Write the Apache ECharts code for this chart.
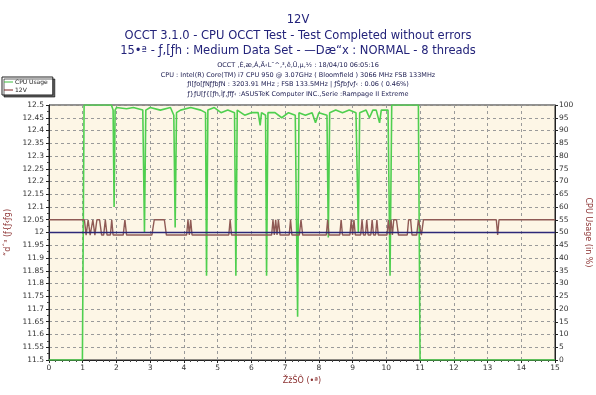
<!DOCTYPE html>
<html><head><meta charset="utf-8">
<script src="https://cdn.jsdelivr.net/npm/echarts@6/dist/echarts.min.js"></script>
<style>html,body{margin:0;padding:0;background:#fff}#c{width:596px;height:395px}</style>
</head><body><div id="c"></div>
<script>
// ---- data ----
const titleLines = [
  "12V",
  "OCCT 3.1.0 - CPU OCCT Test - Test Completed without errors",
  "15•ª - ƒ‚[ƒh : Medium Data Set - —Dæ“x : NORMAL - 8 threads"
];
const infoLines = [
  "OCCT ‚É‚æ‚Á‚Ä‹L˜^‚³‚ê‚Ü‚µ‚½ : 18/04/10 06:05:16",
  "CPU : Intel(R) Core(TM) i7 CPU 950 @ 3.07GHz ( Bloomfield ) 3066 MHz FSB 133MHz",
  "ƒI[ƒo[ƒNƒƒbƒN : 3203.91 MHz ; FSB 133.5MHz | ƒŠƒbƒvƒ‹ : 0.06 ( 0.46%)",
  "ƒ}ƒU[ƒ{[ƒh‚Ìƒ‚ƒfƒ‹ :ASUSTeK Computer INC.,Serie :Rampage II Extreme"
];
const xName = "ŽžŠÔ (•ª)";
const yLeftName = "“dˆ³ (ƒ{ƒ‹ƒg)";
const yRightName = "CPU Usage (in %)";
const refVoltage = 12;

// CPU usage (%) : time (min), value
const cpuTime = [0,0.99,1.04,1.85,1.9,1.93,1.96,2.0,2.3,2.5,2.78,2.83,2.87,3.0,3.3,3.6,3.7,3.74,3.78,3.9,4.2,4.5,4.64,4.67,4.71,4.9,5.1,5.3,5.5,5.54,5.58,5.8,6.0,6.2,6.26,6.3,6.42,6.45,6.49,6.7,6.9,7.1,7.3,7.37,7.41,7.6,7.8,7.9,8.0,8.24,8.28,8.32,8.5,8.7,8.9,9.1,9.17,9.21,9.4,9.5,9.6,9.7,9.8,9.85,10.05,10.11,10.16,10.95,11.0,15];
const cpuValue = [0,0,100,100,98,60,98,99,98.5,99,98,50,98,99,98,99,96,52,97,98,99,98,97,33,98,99,97,98,97,33,98,96,97,97,92,97,96,33,97,97,95,97,96,17,97,96,97,93,97,96,48,97,98,97,98,97,50,97,98,95,98,98,93,98,98,33,100,100,0,0];

// 12V (V) : time (min), value
const vTime = [0,1.05,1.1,1.16,1.22,1.3,1.36,1.42,1.5,1.56,1.62,1.67,1.72,1.82,1.86,1.9,2.2,2.25,2.3,3.05,3.12,3.42,3.48,4.08,4.12,4.16,4.2,4.24,5.33,5.37,5.41,6.6,6.64,6.68,6.72,6.76,6.8,6.85,7.12,7.16,7.2,7.42,7.47,7.52,8.22,8.26,8.3,8.62,8.66,8.7,8.92,8.96,9.0,9.04,9.08,9.24,9.28,9.32,9.38,9.42,9.46,9.54,9.58,9.62,9.68,9.72,9.76,10.02,10.06,10.1,10.14,10.18,10.22,10.3,10.36,10.62,10.66,10.72,10.76,10.9,10.95,11.0,11.04,11.1,13.26,13.3,13.34,15];
const vValue = [12.05,12.05,11.99,12.05,11.99,12.05,11.99,12.05,12.05,11.99,11.99,12.05,11.99,11.99,12.05,11.99,11.99,12.05,11.99,11.99,12.05,12.05,11.99,11.99,12.05,11.99,12.05,11.99,11.99,12.05,11.99,11.99,12.05,11.99,12.05,11.99,12.05,11.99,11.99,12.05,11.99,11.99,12.05,11.99,11.99,12.05,11.99,11.99,12.05,11.99,11.99,12.05,11.99,12.05,11.99,11.99,12.05,11.99,11.99,12.05,11.99,11.99,12.05,11.99,11.99,12.05,11.99,11.99,12.05,11.99,12.05,11.99,12.05,12.05,11.99,11.99,12.05,12.05,11.99,11.99,12.05,12.05,11.99,12.05,12.05,11.99,12.05,12.05];

const cpuData = cpuTime.map((t,i)=>[t,cpuValue[i]]);
const vData = vTime.map((t,i)=>[t,vValue[i]]);

const chart = echarts.init(document.getElementById('c'), null, {renderer:'canvas'});
const FONT = 'DejaVu Sans';
const navy = '#23237a';
const titles = titleLines.map((t,i)=>({text:t,left:'center',top:[14,30,45][i],padding:0,
  textStyle:{fontFamily:FONT,fontSize:11.5,fontWeight:'normal',color:navy}}));
infoLines.forEach((t,i)=>titles.push({text:t,left:'center',top:62+i*9.5,padding:0,
  textStyle:{fontFamily:FONT,fontSize:6.5,fontWeight:'normal',color:'#1c1c50'}}));

const gridLine = {show:true,lineStyle:{color:'#9a9a9a',type:[3,3],width:1}};
chart.setOption({
  animation:false,
  backgroundColor:'#ffffff',
  title:titles,
  legend:{orient:'vertical',left:2,top:77,itemWidth:9,itemHeight:1,itemGap:2,
    padding:[2,5,2,2],backgroundColor:'#fff',borderColor:'#222',borderWidth:1,
    shadowColor:'rgba(0,0,0,0.6)',shadowOffsetX:2,shadowOffsetY:2,shadowBlur:0,
    textStyle:{fontFamily:FONT,fontSize:6,color:'#222',padding:[0,0,0,-3]},
    data:[{name:'CPU Usage',icon:'rect'},{name:'12V',icon:'rect'}]},
  grid:{left:49,right:41,top:105,bottom:35,outerBoundsMode:'none',containLabel:false,show:true,backgroundColor:'#fdf6e6',borderColor:'#222',borderWidth:1},
  xAxis:{type:'value',min:0,max:15,interval:1,name:xName,nameLocation:'middle',nameGap:12,
    nameTextStyle:{fontFamily:FONT,fontSize:8,color:'#8b3030'},
    axisLine:{show:true,lineStyle:{color:'#222'}},
    axisTick:{show:true,length:3,lineStyle:{color:'#222'}},
    minorTick:{show:true,splitNumber:5,length:2,lineStyle:{color:'#444'}},
    axisLabel:{fontFamily:FONT,fontSize:7.5,color:'#333',margin:4},
    splitLine:gridLine},
  yAxis:[
    {type:'value',min:11.5,max:12.5,interval:0.05,name:yLeftName,nameLocation:'middle',nameGap:34,nameRotate:90,
     nameTextStyle:{fontFamily:FONT,fontSize:8,color:'#8b3030'},
     axisLine:{show:true,lineStyle:{color:'#222'}},
     axisTick:{show:true,length:3,lineStyle:{color:'#222'}},
     minorTick:{show:true,splitNumber:2,length:2,lineStyle:{color:'#444'}},
     axisLabel:{fontFamily:FONT,fontSize:7.5,color:'#333',margin:5},
     splitLine:gridLine},
    {type:'value',min:0,max:100,interval:5,position:'right',name:yRightName,nameLocation:'middle',nameGap:24,nameRotate:-90,
     nameTextStyle:{fontFamily:FONT,fontSize:8,color:'#8b3030'},
     axisLine:{show:true,lineStyle:{color:'#222'}},
     axisTick:{show:true,length:3,lineStyle:{color:'#222'}},
     axisLabel:{fontFamily:FONT,fontSize:7.5,color:'#333',margin:4},
     splitLine:{show:false}}
  ],
  series:[
    {name:'CPU Usage',type:'line',yAxisIndex:1,data:cpuData,showSymbol:false,symbol:'none',
     lineStyle:{color:'#4fcf4f',width:1.6},itemStyle:{color:'#3fbf3f'},z:3},
    {name:'12V',type:'line',yAxisIndex:0,data:vData,showSymbol:false,symbol:'none',
     lineStyle:{color:'#8f5a55',width:1.4},itemStyle:{color:'#7a2020'},z:4,
     markLine:{silent:true,symbol:'none',label:{show:false},
       lineStyle:{color:'#2c2878',width:1.3,type:'solid'},data:[{yAxis:refVoltage}]}}
  ]
});
</script></body></html>
